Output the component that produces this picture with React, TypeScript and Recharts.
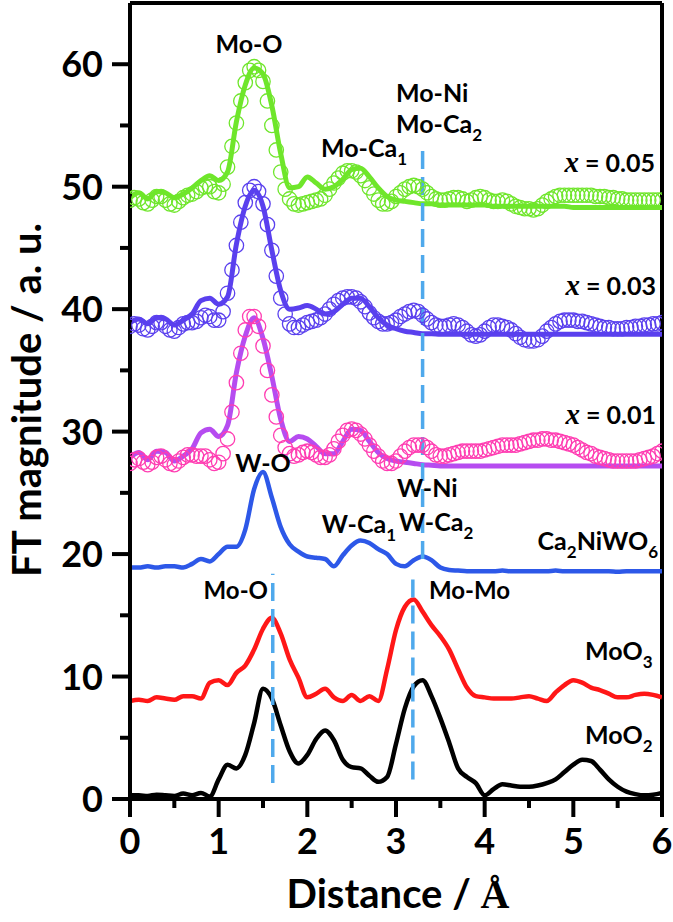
import React from 'react';
import { ComposedChart, Line, XAxis, YAxis, ReferenceLine } from 'recharts';

const FONT = 'Lato, "Open Sans", sans-serif';
const SERIF = '"Liberation Serif", "DejaVu Serif", serif';

// sampling steps of the curves (distance, Å)
const FIT_STEP = 0.1;
const DATA_STEP = 0.05;

const X_TICKS = [0, 0.5, 1, 1.5, 2, 2.5, 3, 3.5, 4, 4.5, 5, 5.5, 6];
const Y_TICKS = [0, 5, 10, 15, 20, 25, 30, 35, 40, 45, 50, 55, 60];

// reference spectra, 0 .. 6 Å every 0.1 Å
const MOO2 = [
  0.3, 0.3, 0.25, 0.35, 0.3, 0.25, 0.45, 0.3, 0.5, 0.2,
  1.6, 2.8, 2.5, 3.6, 6.2, 9.0, 8.2, 6.0, 3.9, 2.9,
  3.6, 4.9, 5.6, 4.8, 3.2, 2.6, 2.5, 1.9, 1.4, 1.8,
  4.5, 7.4, 9.2, 9.7, 8.4, 6.6, 4.6, 2.5, 1.8, 1.3,
  0.3, 0.8, 1.2, 1.1, 1.0, 1.0, 1.1, 1.3, 1.6, 2.2,
  2.8, 3.2, 3.1, 2.4, 1.6, 1.0, 0.6, 0.4, 0.3, 0.35, 0.5,
];
const MOO3 = [
  8.0, 8.1, 8.0, 8.3, 8.2, 8.1, 8.4, 8.4, 8.2, 9.5,
  9.7, 9.3, 10.3, 10.9, 12.2, 13.9, 14.8, 13.5, 11.4, 9.9,
  8.3, 8.6, 9.0, 8.3, 8.0, 8.5, 8.0, 8.4, 8.0, 10.6,
  13.8, 15.7, 16.3, 15.3, 14.2, 13.3, 12.2, 10.6, 9.1, 8.4,
  8.3, 8.2, 8.2, 8.2, 8.3, 8.4, 8.2, 8.0, 8.7, 9.3,
  9.7, 9.5, 9.1, 8.9, 8.6, 8.3, 8.3, 8.5, 8.6, 8.5, 8.3,
];
const CA2NIWO6 = [
  18.9, 18.9, 19.0, 18.9, 19.0, 19.0, 18.9, 19.2, 19.6, 19.4,
  20.0, 20.6, 20.6, 22.0, 25.3, 26.7, 24.6, 22.2, 20.8, 20.2,
  19.8, 19.7, 19.6, 19.0, 19.9, 20.7, 21.1, 20.9, 20.4, 20.0,
  19.2, 19.0, 19.5, 19.8, 19.5, 18.9, 18.7, 18.65, 18.6, 18.6,
  18.6, 18.6, 18.65, 18.6, 18.6, 18.6, 18.6, 18.6, 18.65, 18.6,
  18.6, 18.6, 18.6, 18.6, 18.6, 18.55, 18.6, 18.6, 18.6, 18.6, 18.6,
];

// fitted curves, 0 .. 6 Å every 0.1 Å
const FIT_005 = [
  49.1, 49.5, 49.0, 49.6, 49.5, 49.1, 49.4, 49.9, 50.5, 50.9,
  50.5, 51.2, 55.3, 58.3, 59.7, 59.2, 56.6, 52.7, 49.9, 50.0,
  50.8, 50.3, 49.8, 50.0, 50.6, 51.4, 51.5, 50.8, 49.9, 49.2,
  48.9, 48.8, 48.7, 48.6, 48.6, 48.5, 48.5, 48.5, 48.5, 48.5,
  48.5, 48.4, 48.4, 48.4, 48.4, 48.4, 48.4, 48.4, 48.4, 48.4,
  48.3, 48.3, 48.3, 48.3, 48.3, 48.3, 48.3, 48.3, 48.3, 48.3, 48.3,
];
const FIT_003 = [
  38.9, 39.2, 38.8, 39.3, 39.2, 38.7, 39.1, 39.6, 40.7, 40.9,
  40.4, 41.0, 45.3, 48.4, 49.7, 48.4, 44.8, 41.5, 40.0, 40.1,
  40.3, 40.0, 39.6, 39.8, 40.4, 40.9, 40.9, 40.2, 39.3, 38.7,
  38.4, 38.2, 38.1, 38.0, 38.0, 37.95, 37.95, 37.95, 37.95, 37.95,
  37.95, 37.95, 37.95, 37.95, 37.95, 37.95, 37.95, 37.95, 37.95, 37.95,
  37.95, 37.95, 37.95, 37.95, 37.95, 37.95, 37.95, 37.95, 37.95, 37.95, 37.95,
];
const FIT_001 = [
  27.9, 28.3, 27.7, 28.4, 28.3, 27.6, 28.0, 28.6, 29.9, 30.2,
  29.6, 30.5, 34.8, 37.8, 39.3, 37.6, 34.5, 31.0, 29.2, 29.6,
  29.4, 28.8, 28.2, 28.2, 29.2, 30.2, 30.1, 29.2, 28.3, 27.8,
  27.6, 27.5, 27.4, 27.3, 27.25, 27.2, 27.2, 27.2, 27.2, 27.2,
  27.2, 27.2, 27.2, 27.2, 27.2, 27.2, 27.2, 27.2, 27.2, 27.2,
  27.2, 27.2, 27.2, 27.2, 27.2, 27.2, 27.2, 27.2, 27.2, 27.2, 27.2,
];

// measured data, 0 .. 6 Å every 0.05 Å
const DATA_005 = [
  48.9, 49.1, 49.0, 48.7, 48.6, 48.9, 49.2, 49.2, 48.9, 48.6,
  48.5, 48.8, 49.1, 49.3, 49.4, 49.6, 49.9, 50.0, 50.0, 49.6,
  49.5, 50.2, 51.6, 53.3, 55.2, 57.0, 58.5, 59.5, 59.8, 59.5,
  58.6, 57.0, 55.0, 53.0, 51.2, 49.8, 49.0, 48.6, 48.5, 48.6,
  48.7, 48.8, 48.9, 49.0, 49.3, 49.8, 50.3, 50.7, 51.1, 51.3,
  51.3, 51.2, 50.9, 50.5, 49.9, 49.4, 48.9, 48.6, 48.6, 48.8,
  49.2, 49.5, 49.8, 50.0, 50.1, 50.0, 49.8, 49.5, 49.2, 49.0,
  48.9, 48.9, 49.0, 49.1, 49.1, 49.0, 48.8, 48.9, 49.1, 49.2,
  49.1, 48.9, 48.8, 48.8, 48.9, 48.8, 48.6, 48.4, 48.3, 48.2,
  48.2, 48.1, 48.2, 48.5, 48.8, 49.0, 49.2, 49.3, 49.3, 49.3,
  49.3, 49.3, 49.3, 49.3, 49.3, 49.2, 49.2, 49.2, 49.1, 49.1,
  49.0, 49.0, 48.9, 48.9, 48.9, 48.9, 48.9, 48.9, 48.9, 48.9,
  48.9,
];
const DATA_003 = [
  38.6, 38.8, 38.7, 38.4, 38.3, 38.6, 38.9, 38.9, 38.6, 38.3,
  38.2, 38.5, 38.8, 38.9, 38.9, 39.0, 39.3, 39.5, 39.4, 39.1,
  39.1, 39.8, 41.3, 43.2, 45.2, 47.1, 48.7, 49.7, 50.0, 49.6,
  48.6, 46.9, 44.8, 42.7, 40.9, 39.6, 38.8, 38.5, 38.5, 38.7,
  38.9, 39.0, 39.1, 39.3, 39.6, 40.0, 40.4, 40.7, 40.9, 41.0,
  41.0, 40.9, 40.6, 40.2, 39.7, 39.3, 39.0, 38.8, 38.8, 38.9,
  39.1, 39.4, 39.6, 39.8, 39.9, 39.8, 39.5, 39.2, 38.9, 38.7,
  38.6, 38.6, 38.7, 38.8, 38.7, 38.5, 38.2, 37.9, 37.8, 37.9,
  38.2, 38.5, 38.7, 38.7, 38.6, 38.5, 38.3, 38.0, 37.7, 37.5,
  37.4, 37.4, 37.5, 37.8, 38.2, 38.5, 38.8, 39.0, 39.1, 39.1,
  39.1, 39.0, 39.0, 38.9, 38.8, 38.7, 38.6, 38.5, 38.5, 38.4,
  38.4, 38.4, 38.5, 38.5, 38.6, 38.6, 38.7, 38.7, 38.8, 38.8,
  38.9,
];
const DATA_001 = [
  27.4, 27.7, 27.8, 27.5, 27.3, 27.5, 27.9, 28.0, 27.7, 27.4,
  27.3, 27.6, 27.9, 28.1, 28.1, 28.0, 28.0, 28.0, 27.7, 27.4,
  27.5, 28.2, 29.4, 31.6, 34.0, 36.4, 38.3, 39.4, 39.4, 38.6,
  37.0, 35.0, 33.0, 31.2, 29.7, 28.7, 28.2, 28.0, 28.1, 28.3,
  28.4, 28.3, 28.1, 27.9, 27.9, 28.1, 28.6, 29.2, 29.7, 30.1,
  30.2, 30.1, 29.8, 29.4, 28.9, 28.4, 28.0, 27.6, 27.4, 27.4,
  27.6, 28.0, 28.4, 28.7, 28.9, 28.9, 28.9, 28.7, 28.4, 28.1,
  28.0, 28.0, 28.1, 28.2, 28.3, 28.4, 28.4, 28.4, 28.4, 28.4,
  28.5, 28.6, 28.7, 28.8, 28.9, 28.9, 28.9, 28.9, 29.0, 29.1,
  29.2, 29.3, 29.3, 29.4, 29.4, 29.3, 29.3, 29.2, 29.1, 29.0,
  28.9, 28.7, 28.5, 28.3, 28.2, 28.0, 27.9, 27.8, 27.7, 27.6,
  27.6, 27.6, 27.6, 27.6, 27.6, 27.7, 27.8, 27.9, 28.0, 28.2,
  28.4,
];

// dashed guide lines: [distance, from, to]
const GUIDES = [
  [3.3, 19.6, 53.4],
  [1.61, 1.3, 18.4],
  [3.19, 1.6, 18.5],
];

const NOTES = [
  { t: 'Mo-O', x: 249, y: 53, a: 'middle', s: 25 },
  { t: 'Mo-Ni', x: 396, y: 102, a: 'start', s: 25 },
  { t: 'Mo-Ca_2', x: 396, y: 133, a: 'start', s: 25 },
  { t: 'Mo-Ca_1', x: 321, y: 157, a: 'start', s: 25 },
  { t: 'W-O', x: 263, y: 472, a: 'middle', s: 25 },
  { t: 'W-Ni', x: 397, y: 497, a: 'start', s: 25 },
  { t: 'W-Ca_2', x: 399, y: 531, a: 'start', s: 25 },
  { t: 'W-Ca_1', x: 396, y: 533, a: 'end', s: 25 },
  { t: 'Ca_2NiWO_6', x: 658, y: 550, a: 'end', s: 25 },
  { t: 'Mo-O', x: 268, y: 599, a: 'end', s: 24 },
  { t: 'Mo-Mo', x: 429, y: 599, a: 'start', s: 24 },
  { t: 'MoO_3', x: 585, y: 660, a: 'start', s: 25 },
  { t: 'MoO_2', x: 585, y: 744, a: 'start', s: 25 },
];

const SAMPLES = [
  { v: '0.05', x: 655, y: 172 },
  { v: '0.03', x: 656, y: 295 },
  { v: '0.01', x: 656, y: 424 },
];

const toPoints = (vals: number[], step: number) =>
  vals.map((y, i) => ({ x: +(i * step).toFixed(2), y }));

const CIRCLES = [
  { data: DATA_005, color: '#6fe62b' },
  { data: DATA_003, color: '#5a40ee' },
  { data: DATA_001, color: '#ff3db2' },
];

const CURVES = [
  { data: FIT_005, color: '#6fe62b', w: 5 },
  { data: FIT_003, color: '#5a40ee', w: 5 },
  { data: FIT_001, color: '#b64cf0', w: 5 },
  { data: CA2NIWO6, color: '#2d58e8', w: 4.5 },
  { data: MOO3, color: '#ff1717', w: 4.5 },
  { data: MOO2, color: '#000000', w: 4.5 },
];

const rich = (s: string, size: number) => {
  const parts = s.split(/_(\d)/);
  const off = size * 0.3;
  const out: React.ReactNode[] = [];
  parts.forEach((p, i) => {
    if (i % 2 === 1) {
      out.push(<tspan key={i} dy={off} fontSize={size * 0.68}>{p}</tspan>);
    } else if (p) {
      out.push(<tspan key={i} dy={i > 0 ? -off : 0}>{p}</tspan>);
    }
  });
  return out;
};

const XTick = (props: any) => {
  const { x, y, payload } = props;
  const major = Number.isInteger(payload.value);
  return (
    <g>
      <line x1={x} x2={x} y1={y} y2={y + (major ? 18 : 9)} stroke="#000" strokeWidth={4} />
      {major && (
        <text x={x} y={y + 55} textAnchor="middle" fontSize={36} fontWeight={700} fontFamily={FONT} fill="#000">
          {payload.value}
        </text>
      )}
    </g>
  );
};

const YTick = (props: any) => {
  const { x, y, payload } = props;
  const major = payload.value % 10 === 0;
  return (
    <g>
      <line x1={x - (major ? 18 : 10)} x2={x} y1={y} y2={y} stroke="#000" strokeWidth={4} />
      {major && (
        <text x={x - 27} y={y + 13} textAnchor="end" fontSize={36} fontWeight={700} fontFamily={FONT} fill="#000">
          {payload.value}
        </text>
      )}
    </g>
  );
};

export default function App() {
  return (
    <div style={{ position: 'absolute', left: 0, top: 0, width: 673, height: 922, background: '#fff' }}>
      <ComposedChart width={673} height={922} margin={{ top: 3, right: 11, bottom: 0, left: 0 }}>
        <XAxis
          type="number"
          dataKey="x"
          domain={[0, 6]}
          ticks={X_TICKS}
          interval={0}
          allowDataOverflow
          height={123}
          tickSize={0}
          tickMargin={0}
          tickLine={false}
          tick={<XTick />}
          axisLine={{ stroke: '#000', strokeWidth: 4 }}
        />
        <YAxis
          type="number"
          domain={[0, 65]}
          ticks={Y_TICKS}
          interval={0}
          allowDataOverflow
          width={130}
          tickSize={0}
          tickMargin={0}
          tickLine={false}
          tick={<YTick />}
          axisLine={{ stroke: '#000', strokeWidth: 4 }}
        />
        <ReferenceLine y={65} stroke="#000" strokeWidth={4} />
        <ReferenceLine x={6} stroke="#000" strokeWidth={4} />

        {CIRCLES.map((c, i) => (
          <Line
            key={`data-${i}`}
            data={toPoints(c.data, DATA_STEP)}
            dataKey="y"
            stroke="none"
            dot={{ r: 7.2, fill: 'none', stroke: c.color, strokeWidth: 1.3 }}
            activeDot={false}
            isAnimationActive={false}
          />
        ))}
        {CURVES.map((c, i) => (
          <Line
            key={`fit-${i}`}
            data={toPoints(c.data, FIT_STEP)}
            dataKey="y"
            type="monotone"
            stroke={c.color}
            strokeWidth={c.w}
            dot={false}
            activeDot={false}
            isAnimationActive={false}
          />
        ))}
        {GUIDES.map(([x, y1, y2], i) => (
          <ReferenceLine
            key={`guide-${i}`}
            segment={[{ x, y: y1 }, { x, y: y2 }]}
            stroke="#4fa9ec"
            strokeWidth={3.5}
            strokeDasharray="18 8"
          />
        ))}
      </ComposedChart>

      <svg width={673} height={922} style={{ position: 'absolute', left: 0, top: 0, pointerEvents: 'none' }}>
        {NOTES.map((n, i) => (
          <text key={i} x={n.x} y={n.y} textAnchor={n.a as any} fontSize={n.s} fontWeight={700} fontFamily={FONT} fill="#000">
            {rich(n.t, n.s)}
          </text>
        ))}
        {SAMPLES.map((s, i) => (
          <text key={i} x={s.x} y={s.y} textAnchor="end" fontSize={25} fontWeight={700} fontFamily={FONT} fill="#000">
            <tspan fontFamily={SERIF} fontStyle="italic" fontSize={29}>x</tspan>
            <tspan>{` = ${s.v}`}</tspan>
          </text>
        ))}
        <text
          transform="translate(41 400) rotate(-90)"
          textAnchor="middle"
          fontSize={40}
          fontWeight={700}
          fontFamily={FONT}
          fill="#000"
        >
          FT magnitude / a. u.
        </text>
        <text x={398} y={908} textAnchor="middle" fontSize={40} fontWeight={700} fontFamily={FONT} fill="#000">
          Distance / <tspan fontFamily={SERIF}>Å</tspan>
        </text>
      </svg>
    </div>
  );
}
